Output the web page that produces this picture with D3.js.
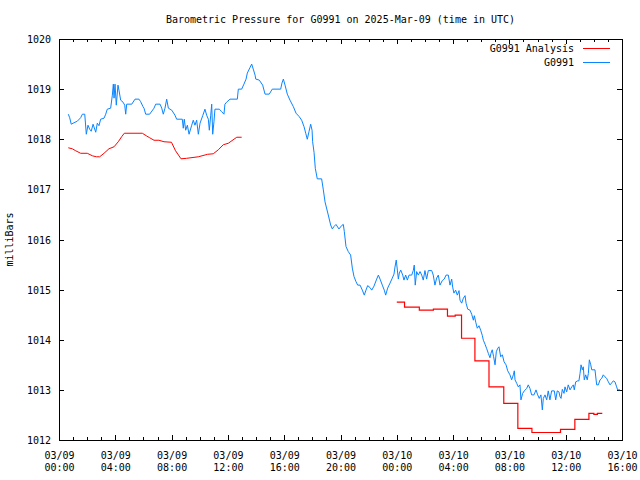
<!DOCTYPE html>
<html><head><meta charset="utf-8">
<script src="https://cdn.jsdelivr.net/npm/d3@7"></script>
<style>
body{margin:0;background:#fff}
svg text{font-family:"DejaVu Sans Mono","Liberation Mono",monospace;font-size:10px;fill:#000}
</style>
</head><body><svg id="c" width="640" height="480"></svg>
<script>
const titleText = "Barometric Pressure for G0991 on 2025-Mar-09 (time in UTC)";
const yLabel = "milliBars";
const seriesNames = ["G0991 Analysis", "G0991"];
const seriesColors = ["#ff0000", "#0a84ff"];
const yTicks = [1012, 1013, 1014, 1015, 1016, 1017, 1018, 1019, 1020];
const startUTC = Date.UTC(2025, 2, 9, 0, 0);
const spanHours = 40;

// G0991 observations: [hours since 03/09 00:00 UTC, mb]
const obs = [
[0.66,1018.50],[0.76,1018.43],[0.87,1018.30],[1.07,1018.33],[1.30,1018.36],[1.54,1018.43],[1.66,1018.50],[1.83,1018.50],
[1.94,1018.10],[2.06,1018.28],[2.18,1018.20],[2.29,1018.16],[2.42,1018.30],[2.61,1018.14],[2.72,1018.32],[2.84,1018.27],
[2.96,1018.40],[3.20,1018.42],[3.32,1018.50],[3.43,1018.60],[3.67,1018.62],[3.79,1018.88],[3.86,1019.10],[3.91,1018.82],
[3.98,1019.10],[4.07,1018.68],[4.19,1019.08],[4.26,1018.98],[4.38,1018.78],[4.55,1018.74],[4.67,1018.68],[4.74,1018.50],
[4.81,1018.70],[5.17,1018.70],[5.40,1018.80],[5.68,1018.80],[5.80,1018.75],[5.97,1018.65],[6.04,1018.62],[6.16,1018.50],
[6.44,1018.50],[6.75,1018.62],[6.87,1018.70],[7.18,1018.70],[7.30,1018.62],[7.41,1018.50],[7.53,1018.62],[7.65,1018.80],
[7.77,1018.62],[8.01,1018.58],[8.24,1018.48],[8.36,1018.40],[8.76,1018.40],[8.83,1018.22],[8.90,1018.40],[9.00,1018.18],
[9.12,1018.28],[9.24,1018.10],[9.43,1018.28],[9.54,1018.38],[9.66,1018.28],[9.78,1018.38],[9.90,1018.10],[10.02,1018.32],
[10.21,1018.47],[10.37,1018.60],[10.49,1018.48],[10.61,1018.40],[10.68,1018.18],[10.78,1018.48],[10.85,1018.70],[10.92,1018.10],
[11.01,1018.35],[11.08,1018.60],[11.39,1018.60],[11.56,1018.55],[11.72,1018.50],[11.79,1018.70],[11.91,1018.74],[12.15,1018.80],
[12.67,1018.80],[12.74,1019.00],[12.98,1019.00],[13.14,1019.10],[13.29,1019.20],[13.38,1019.32],[13.57,1019.43],[13.69,1019.50],
[13.80,1019.40],[13.93,1019.28],[13.98,1019.20],[14.23,1019.18],[14.47,1019.08],[14.64,1018.90],[14.94,1018.90],[15.15,1019.00],
[15.75,1019.00],[15.84,1019.12],[15.94,1019.20],[16.06,1019.08],[16.22,1018.90],[16.41,1018.78],[16.65,1018.65],[16.84,1018.52],
[17.07,1018.45],[17.24,1018.38],[17.41,1018.25],[17.53,1018.12],[17.64,1018.00],[17.76,1018.15],[17.88,1018.30],[17.98,1018.18],
[18.02,1017.95],[18.12,1017.74],[18.21,1017.42],[18.35,1017.21],[18.66,1017.21],[18.78,1016.99],[18.90,1016.75],[19.13,1016.49],
[19.30,1016.29],[19.42,1016.21],[19.54,1016.26],[19.68,1016.30],[19.89,1016.21],[20.09,1016.28],[20.20,1016.30],[20.27,1016.16],
[20.39,1015.86],[20.55,1015.76],[20.72,1015.69],[20.84,1015.43],[20.96,1015.26],[21.10,1015.16],[21.22,1015.09],[21.39,1015.09],
[21.55,1014.99],[21.69,1014.89],[21.81,1014.99],[21.93,1015.08],[22.10,1015.04],[22.22,1014.99],[22.38,1015.07],[22.57,1015.21],
[22.69,1015.29],[22.81,1015.21],[22.97,1015.09],[23.11,1014.99],[23.21,1014.89],[23.35,1015.03],[23.52,1015.13],[23.68,1015.23],
[23.80,1015.31],[23.87,1015.45],[23.96,1015.59],[24.04,1015.39],[24.11,1015.21],[24.18,1015.33],[24.28,1015.39],[24.42,1015.29],
[24.51,1015.19],[24.63,1015.29],[24.75,1015.19],[24.87,1015.29],[25.06,1015.29],[25.17,1015.38],[25.24,1015.49],[25.31,1015.09],
[25.41,1015.36],[25.53,1015.29],[25.65,1015.36],[25.77,1015.29],[25.88,1015.19],[26.00,1015.38],[26.12,1015.21],[26.24,1015.38],
[26.48,1015.38],[26.59,1015.29],[26.71,1015.09],[26.83,1015.23],[26.95,1015.29],[27.07,1015.09],[27.23,1015.18],[27.37,1015.21],
[27.50,1015.29],[27.66,1015.29],[27.78,1015.09],[27.90,1015.21],[27.97,1015.05],[28.06,1014.93],[28.18,1014.99],[28.30,1014.89],
[28.42,1014.98],[28.49,1014.79],[28.61,1014.73],[28.73,1014.83],[28.85,1014.88],[28.92,1014.73],[29.04,1014.61],[29.20,1014.59],
[29.32,1014.51],[29.44,1014.39],[29.51,1014.48],[29.61,1014.35],[29.72,1014.23],[29.84,1014.28],[29.96,1014.19],[30.07,1014.09],
[30.15,1013.99],[30.27,1013.91],[30.39,1013.82],[30.50,1013.73],[30.62,1013.64],[30.69,1013.73],[30.78,1013.80],[30.88,1013.66],
[30.98,1013.50],[31.07,1013.76],[31.17,1013.83],[31.26,1013.86],[31.38,1013.66],[31.50,1013.70],[31.62,1013.56],[31.76,1013.50],
[31.88,1013.38],[32.04,1013.30],[32.16,1013.20],[32.28,1013.30],[32.35,1013.38],[32.40,1013.20],[32.52,1013.13],[32.63,1013.06],
[32.75,1013.10],[32.82,1012.80],[32.94,1012.93],[33.06,1012.98],[33.23,1013.03],[33.34,1013.10],[33.46,1013.03],[33.58,1012.90],
[33.75,1012.90],[33.89,1013.00],[34.01,1012.90],[34.12,1012.83],[34.24,1012.90],[34.34,1012.60],[34.41,1012.83],[34.53,1012.90],
[34.65,1012.80],[34.76,1012.98],[34.88,1012.80],[35.00,1012.98],[35.19,1012.98],[35.29,1012.80],[35.40,1012.98],[35.52,1012.96],
[35.60,1012.86],[35.67,1012.83],[35.76,1013.01],[35.88,1012.93],[35.95,1013.06],[36.07,1012.96],[36.18,1013.10],[36.31,1013.00],
[36.43,1013.06],[36.54,1013.10],[36.61,1013.00],[36.71,1013.16],[36.85,1013.18],[36.94,1013.18],[37.02,1013.33],[37.09,1013.50],
[37.18,1013.40],[37.25,1013.46],[37.32,1013.20],[37.42,1013.30],[37.53,1013.20],[37.61,1013.33],[37.68,1013.60],[37.78,1013.50],
[37.85,1013.40],[38.08,1013.40],[38.20,1013.10],[38.32,1013.10],[38.44,1013.20],[38.56,1013.23],[38.67,1013.30],[38.79,1013.26],
[38.91,1013.23],[39.03,1013.16],[39.15,1013.10],[39.27,1013.14],[39.38,1013.18],[39.50,1013.16],[39.62,1013.06],[39.69,1013.00],
[39.86,1013.00]
];

// G0991 Analysis, first run (linear): [hours, mb]
const analysisEarly = [
[0.66,1017.83],[0.94,1017.81],[1.19,1017.77],[1.54,1017.72],[2.01,1017.72],[2.37,1017.67],[2.65,1017.65],[2.89,1017.65],
[3.20,1017.72],[3.55,1017.81],[3.91,1017.85],[4.21,1017.95],[4.45,1018.05],[4.64,1018.12],[5.92,1018.12],[6.20,1018.07],
[6.44,1018.03],[6.75,1017.98],[7.10,1017.98],[7.46,1017.95],[7.99,1017.94],[8.28,1017.77],[8.67,1017.61],[9.07,1017.62],
[9.90,1017.65],[10.56,1017.70],[10.96,1017.71],[11.32,1017.79],[11.67,1017.89],[12.03,1017.92],[12.63,1018.04],[12.98,1018.04]
];

// G0991 Analysis, second run (hourly steps): [hours, mb]
const analysisLate = [
[24.00,1014.75],[24.55,1014.65],[25.60,1014.59],[26.60,1014.61],[27.60,1014.47],[28.15,1014.49],[28.60,1014.03],
[29.55,1013.58],[30.55,1013.06],[31.60,1012.73],[32.60,1012.23],[33.60,1012.15],[35.63,1012.21],[36.65,1012.41],
[37.65,1012.53],[38.00,1012.51],[38.25,1012.53],[38.60,1012.53]
];

const svg = d3.select("#c");
const W = 640, H = 480;
const L = 59, R = 622, T = 39, B = 440;
const hr = 3600 * 1000;
const t = h => new Date(startUTC + h * hr);

const x = d3.scaleUtc().domain([t(0), t(spanHours)]).range([L, R]);
const y = d3.scaleLinear().domain([1012, 1020]).range([B, T]);

svg.append("rect").attr("width", W).attr("height", H).attr("fill", "#fff");

// minor x ticks (hourly)
const minor = d3.utcHour.every(1);
svg.append("g").attr("transform", `translate(0,${B})`)
  .call(d3.axisBottom(x).ticks(minor).tickSize(-3).tickSizeOuter(0).tickFormat(""))
  .call(g => g.select(".domain").remove());
svg.append("g").attr("transform", `translate(0,${T})`)
  .call(d3.axisTop(x).ticks(minor).tickSize(-3).tickSizeOuter(0).tickFormat(""))
  .call(g => g.select(".domain").remove());

// major x ticks
const major = d3.utcHour.every(4);
const fDate = d3.utcFormat("%m/%d"), fTime = d3.utcFormat("%H:%M");
const xb = svg.append("g").attr("transform", `translate(0,${B})`)
  .call(d3.axisBottom(x).ticks(major).tickSize(-5).tickSizeOuter(0).tickFormat(""))
  .call(g => g.select(".domain").remove());
xb.selectAll(".tick text").remove();
xb.selectAll(".tick").each(function(d) {
  const g = d3.select(this);
  const tx = g.append("text").attr("text-anchor", "middle").attr("fill", "#000")
    .style("font-family", '"DejaVu Sans Mono","Liberation Mono",monospace').style("font-size", "10px");
  tx.append("tspan").attr("x", 0).attr("y", 19).text(fDate(d));
  tx.append("tspan").attr("x", 0).attr("y", 31).text(fTime(d));
});
svg.append("g").attr("transform", `translate(0,${T})`)
  .call(d3.axisTop(x).ticks(major).tickSize(-5).tickSizeOuter(0).tickFormat(""))
  .call(g => g.select(".domain").remove());

// y ticks
const ya = svg.append("g").attr("transform", `translate(${L},0)`)
  .call(d3.axisLeft(y).tickValues(yTicks).tickSize(-5).tickSizeOuter(0).tickPadding(8).tickFormat(d3.format("d")))
  .call(g => g.select(".domain").remove());
ya.selectAll("text").attr("dy", "0.36em")
  .style("font-family", '"DejaVu Sans Mono","Liberation Mono",monospace').style("font-size", "10px").attr("fill", "#000");
svg.append("g").attr("transform", `translate(${R},0)`)
  .call(d3.axisRight(y).tickValues(yTicks).tickSize(-5).tickSizeOuter(0).tickFormat(""))
  .call(g => g.select(".domain").remove());

svg.selectAll(".tick line").attr("stroke", "#000").attr("shape-rendering", "crispEdges");

// frame
svg.append("rect").attr("x", L).attr("y", T).attr("width", R - L).attr("height", B - T)
  .attr("fill", "none").attr("stroke", "#000").attr("shape-rendering", "crispEdges");

// data lines
const lineLin = d3.line().x(d => x(t(d[0]))).y(d => y(d[1]));
const lineStep = d3.line().x(d => x(t(d[0]))).y(d => y(d[1])).curve(d3.curveStepAfter);

svg.append("path").datum(obs).attr("d", lineLin)
  .attr("fill", "none").attr("stroke", seriesColors[1]).attr("stroke-width", 1);
svg.append("path").datum(analysisEarly).attr("d", lineLin)
  .attr("fill", "none").attr("stroke", seriesColors[0]).attr("stroke-width", 1);
svg.append("path").datum(analysisLate).attr("d", lineStep)
  .attr("fill", "none").attr("stroke", seriesColors[0]).attr("stroke-width", 1.2);

// title & y label
svg.append("text").attr("x", (L + R) / 2).attr("y", 23).attr("text-anchor", "middle").text(titleText);
svg.append("text").attr("transform", `translate(13,${(T + B) / 2}) rotate(-90)`)
  .attr("text-anchor", "middle").text(yLabel);

// legend
const leg = svg.append("g");
seriesNames.forEach((name, i) => {
  const ly = 48 + i * 14;
  leg.append("text").attr("x", 574).attr("y", ly + 4).attr("text-anchor", "end").text(name);
  leg.append("line").attr("x1", 583).attr("x2", 610).attr("y1", ly + 0.5).attr("y2", ly + 0.5)
    .attr("stroke", seriesColors[i]).attr("stroke-width", 1).attr("shape-rendering", "crispEdges");
});
</script>
</body></html>
